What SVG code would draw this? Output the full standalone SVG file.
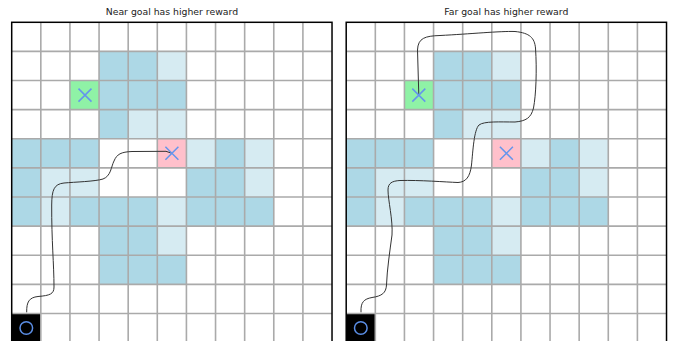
<svg xmlns="http://www.w3.org/2000/svg" xmlns:xlink="http://www.w3.org/1999/xlink" width="674" height="341" viewBox="0 0 674 341">
<style>
.title{font-family:"DejaVu Sans",sans-serif;font-size:9.3px;fill:#222;text-anchor:middle}
.d{fill:#add8e6}
.l{fill:#d6ebf2}
.g{fill:#8ff2a6}
.p{fill:#ffc0cb}
.k{fill:#000}
.grid{stroke:#aaaaaa;stroke-width:1.6;fill:none}
.frame{stroke:#000;stroke-width:1.5;fill:none}
.x{stroke:#6495ed;stroke-width:1.5;fill:none}
.o{stroke:#5b8ee6;stroke-width:1.5;fill:none}
.path{stroke:#333;stroke-width:1;fill:none}
</style>
<defs>
<g id="board">
<rect width="320.32" height="330" fill="#fff"/>
<g class="d">
<rect x="87.36" y="29.12" width="29.12" height="29.12"/>
<rect x="116.48" y="29.12" width="29.12" height="29.12"/>
<rect x="87.36" y="58.24" width="29.12" height="29.12"/>
<rect x="116.48" y="58.24" width="29.12" height="29.12"/>
<rect x="145.6" y="58.24" width="29.12" height="29.12"/>
<rect x="87.36" y="87.36" width="29.12" height="29.12"/>
<rect x="0" y="116.48" width="29.12" height="29.12"/>
<rect x="29.12" y="116.48" width="29.12" height="29.12"/>
<rect x="58.24" y="116.48" width="29.12" height="29.12"/>
<rect x="203.84" y="116.48" width="29.12" height="29.12"/>
<rect x="0" y="145.6" width="29.12" height="29.12"/>
<rect x="174.72" y="145.6" width="29.12" height="29.12"/>
<rect x="203.84" y="145.6" width="29.12" height="29.12"/>
<rect x="0" y="174.72" width="29.12" height="29.12"/>
<rect x="58.24" y="174.72" width="29.12" height="29.12"/>
<rect x="87.36" y="174.72" width="29.12" height="29.12"/>
<rect x="116.48" y="174.72" width="29.12" height="29.12"/>
<rect x="174.72" y="174.72" width="29.12" height="29.12"/>
<rect x="203.84" y="174.72" width="29.12" height="29.12"/>
<rect x="232.96" y="174.72" width="29.12" height="29.12"/>
<rect x="87.36" y="203.84" width="29.12" height="29.12"/>
<rect x="116.48" y="203.84" width="29.12" height="29.12"/>
<rect x="87.36" y="232.96" width="29.12" height="29.12"/>
<rect x="116.48" y="232.96" width="29.12" height="29.12"/>
<rect x="145.6" y="232.96" width="29.12" height="29.12"/>
</g>
<g class="l">
<rect x="145.6" y="29.12" width="29.12" height="29.12"/>
<rect x="116.48" y="87.36" width="29.12" height="29.12"/>
<rect x="145.6" y="87.36" width="29.12" height="29.12"/>
<rect x="174.72" y="116.48" width="29.12" height="29.12"/>
<rect x="232.96" y="116.48" width="29.12" height="29.12"/>
<rect x="29.12" y="145.6" width="29.12" height="29.12"/>
<rect x="58.24" y="145.6" width="29.12" height="29.12"/>
<rect x="232.96" y="145.6" width="29.12" height="29.12"/>
<rect x="29.12" y="174.72" width="29.12" height="29.12"/>
<rect x="145.6" y="174.72" width="29.12" height="29.12"/>
<rect x="145.6" y="203.84" width="29.12" height="29.12"/>
</g>
<rect class="g" x="58.24" y="58.24" width="29.12" height="29.12"/>
<rect class="p" x="145.6" y="116.48" width="29.12" height="29.12"/>
<rect class="k" x="0" y="291.2" width="29.12" height="29.12"/>
<path class="grid" d="M29.12 0V330M58.24 0V330M87.36 0V330M116.48 0V330M145.6 0V330M174.72 0V330M203.84 0V330M232.96 0V330M262.08 0V330M291.2 0V330M0 29.12H320.32M0 58.24H320.32M0 87.36H320.32M0 116.48H320.32M0 145.6H320.32M0 174.72H320.32M0 203.84H320.32M0 232.96H320.32M0 262.08H320.32M0 291.2H320.32"/>
<rect class="frame" x="0" y="0" width="320.32" height="320.32"/>
</g>
</defs>

<g id="panel-near">
<text class="title" x="171.9" y="14.8">Near goal has higher reward</text>
<use xlink:href="#board" href="#board" transform="translate(11.7,22.3)"/>
</g>
<g id="panel-far">
<text class="title" x="506.3" y="14.8">Far goal has higher reward</text>
<use xlink:href="#board" href="#board" transform="translate(346.2,22.3)"/>
</g>

<g id="connectors">
<path class="path" d="M26.7 312.3C26.5 302 29 297.5 38 296.5C50 295.5 54 294 54 287C54 265 51.5 240 51.7 205C51.8 190 54 184 64 183C75 182 95 181.5 103 179C111 176 111 167 114 161C117 154 121 152 132 151.5L166 151.3L171.9 153.3"/>
<path class="path" d="M361 312.3C360.5 302 364 299 372 297.5C382 296 386 293 386.5 285C387 270 390 250 392 235C393 220 388 200 388 190C388 183 392 181 400 180.5C420 180 445 182 458 182.5C466 182 470 177 471.5 165C473 150 474 130 479 125C484 121 500 122 515 122C526 121 531 118 533.5 108C536 95 537 70 535.5 48C534.5 38 530 33 515 31.5C500 31 470 34 440 35.5C425 36 418 38 417.5 50L418.8 95.1"/>
</g>

<g id="near-goal-left"><path class="x" d="M78.5 88.6L91.5 101.6M91.5 88.6L78.5 101.6"/></g>
<g id="far-goal-left"><path class="x" d="M165.4 146.8L178.4 159.8M178.4 146.8L165.4 159.8"/></g>
<g id="start-left"><circle class="o" cx="26.3" cy="328" r="6.3"/></g>
<g id="near-goal-right"><path class="x" d="M412.3 88.6L425.3 101.6M425.3 88.6L412.3 101.6"/></g>
<g id="far-goal-right"><path class="x" d="M499.9 146.8L512.9 159.8M512.9 146.8L499.9 159.8"/></g>
<g id="start-right"><circle class="o" cx="360.8" cy="328" r="6.3"/></g>
</svg>
